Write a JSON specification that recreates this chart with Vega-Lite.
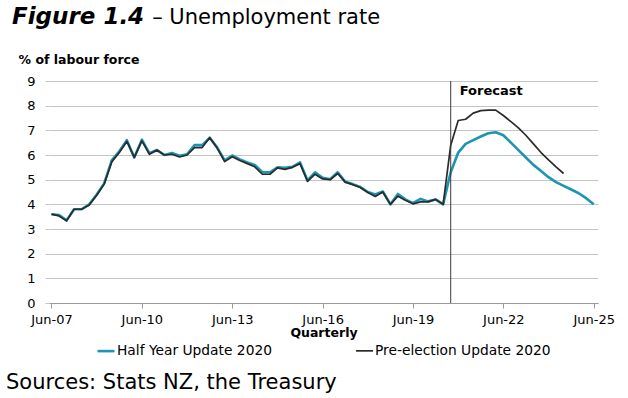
{
  "$schema": "https://vega.github.io/schema/vega-lite/v6.json",
  "background": "white",
  "padding": {"left": 6, "top": 6, "right": 8, "bottom": 4},
  "title": {
    "text": "Sources: Stats NZ, the Treasury",
    "orient": "bottom",
    "anchor": "start",
    "frame": "bounds",
    "font": "DejaVu Sans",
    "fontSize": 21,
    "fontWeight": "normal",
    "color": "#000000",
    "dx": -6,
    "offset": 14
  },
  "datasets": {
    "rates": [
      {"date": "2007-06-01", "Half Year Update 2020": 3.6, "Pre-election Update 2020": 3.6},
      {"date": "2007-09-01", "Half Year Update 2020": 3.57, "Pre-election Update 2020": 3.53},
      {"date": "2007-12-01", "Half Year Update 2020": 3.35, "Pre-election Update 2020": 3.33},
      {"date": "2008-03-01", "Half Year Update 2020": 3.8, "Pre-election Update 2020": 3.8},
      {"date": "2008-06-01", "Half Year Update 2020": 3.8, "Pre-election Update 2020": 3.8},
      {"date": "2008-09-01", "Half Year Update 2020": 4.0, "Pre-election Update 2020": 3.97},
      {"date": "2008-12-01", "Half Year Update 2020": 4.4, "Pre-election Update 2020": 4.37},
      {"date": "2009-03-01", "Half Year Update 2020": 4.85, "Pre-election Update 2020": 4.82},
      {"date": "2009-06-01", "Half Year Update 2020": 5.78, "Pre-election Update 2020": 5.72},
      {"date": "2009-09-01", "Half Year Update 2020": 6.15, "Pre-election Update 2020": 6.1},
      {"date": "2009-12-01", "Half Year Update 2020": 6.6, "Pre-election Update 2020": 6.55},
      {"date": "2010-03-01", "Half Year Update 2020": 5.9, "Pre-election Update 2020": 5.9},
      {"date": "2010-06-01", "Half Year Update 2020": 6.62, "Pre-election Update 2020": 6.57},
      {"date": "2010-09-01", "Half Year Update 2020": 6.07, "Pre-election Update 2020": 6.03},
      {"date": "2010-12-01", "Half Year Update 2020": 6.2, "Pre-election Update 2020": 6.2},
      {"date": "2011-03-01", "Half Year Update 2020": 6.0, "Pre-election Update 2020": 6.0},
      {"date": "2011-06-01", "Half Year Update 2020": 6.08, "Pre-election Update 2020": 6.03},
      {"date": "2011-09-01", "Half Year Update 2020": 5.97, "Pre-election Update 2020": 5.92},
      {"date": "2011-12-01", "Half Year Update 2020": 6.03, "Pre-election Update 2020": 6.0},
      {"date": "2012-03-01", "Half Year Update 2020": 6.4, "Pre-election Update 2020": 6.3},
      {"date": "2012-06-01", "Half Year Update 2020": 6.4, "Pre-election Update 2020": 6.3},
      {"date": "2012-09-01", "Half Year Update 2020": 6.7, "Pre-election Update 2020": 6.7},
      {"date": "2012-12-01", "Half Year Update 2020": 6.3, "Pre-election Update 2020": 6.28},
      {"date": "2013-03-01", "Half Year Update 2020": 5.78, "Pre-election Update 2020": 5.73},
      {"date": "2013-06-01", "Half Year Update 2020": 5.98, "Pre-election Update 2020": 5.93},
      {"date": "2013-09-01", "Half Year Update 2020": 5.82, "Pre-election Update 2020": 5.78},
      {"date": "2013-12-01", "Half Year Update 2020": 5.7, "Pre-election Update 2020": 5.65},
      {"date": "2014-03-01", "Half Year Update 2020": 5.6, "Pre-election Update 2020": 5.52},
      {"date": "2014-06-01", "Half Year Update 2020": 5.3, "Pre-election Update 2020": 5.22},
      {"date": "2014-09-01", "Half Year Update 2020": 5.3, "Pre-election Update 2020": 5.22},
      {"date": "2014-12-01", "Half Year Update 2020": 5.5, "Pre-election Update 2020": 5.48},
      {"date": "2015-03-01", "Half Year Update 2020": 5.48, "Pre-election Update 2020": 5.42},
      {"date": "2015-06-01", "Half Year Update 2020": 5.52, "Pre-election Update 2020": 5.5},
      {"date": "2015-09-01", "Half Year Update 2020": 5.7, "Pre-election Update 2020": 5.65},
      {"date": "2015-12-01", "Half Year Update 2020": 4.97, "Pre-election Update 2020": 4.93},
      {"date": "2016-03-01", "Half Year Update 2020": 5.3, "Pre-election Update 2020": 5.22},
      {"date": "2016-06-01", "Half Year Update 2020": 5.08, "Pre-election Update 2020": 5.03},
      {"date": "2016-09-01", "Half Year Update 2020": 5.02, "Pre-election Update 2020": 5.0},
      {"date": "2016-12-01", "Half Year Update 2020": 5.3, "Pre-election Update 2020": 5.25},
      {"date": "2017-03-01", "Half Year Update 2020": 4.92, "Pre-election Update 2020": 4.9},
      {"date": "2017-06-01", "Half Year Update 2020": 4.82, "Pre-election Update 2020": 4.8},
      {"date": "2017-09-01", "Half Year Update 2020": 4.7, "Pre-election Update 2020": 4.68},
      {"date": "2017-12-01", "Half Year Update 2020": 4.5, "Pre-election Update 2020": 4.48},
      {"date": "2018-03-01", "Half Year Update 2020": 4.4, "Pre-election Update 2020": 4.32},
      {"date": "2018-06-01", "Half Year Update 2020": 4.52, "Pre-election Update 2020": 4.5},
      {"date": "2018-09-01", "Half Year Update 2020": 4.0, "Pre-election Update 2020": 4.0},
      {"date": "2018-12-01", "Half Year Update 2020": 4.42, "Pre-election Update 2020": 4.33},
      {"date": "2019-03-01", "Half Year Update 2020": 4.2, "Pre-election Update 2020": 4.17},
      {"date": "2019-06-01", "Half Year Update 2020": 4.05, "Pre-election Update 2020": 4.02},
      {"date": "2019-09-01", "Half Year Update 2020": 4.22, "Pre-election Update 2020": 4.1},
      {"date": "2019-12-01", "Half Year Update 2020": 4.12, "Pre-election Update 2020": 4.1},
      {"date": "2020-03-01", "Half Year Update 2020": 4.2, "Pre-election Update 2020": 4.2},
      {"date": "2020-06-01", "Half Year Update 2020": 4.0, "Pre-election Update 2020": 4.0},
      {"date": "2020-09-01", "Half Year Update 2020": 5.3, "Pre-election Update 2020": 6.4},
      {"date": "2020-12-01", "Half Year Update 2020": 6.1, "Pre-election Update 2020": 7.4},
      {"date": "2021-03-01", "Half Year Update 2020": 6.45, "Pre-election Update 2020": 7.45},
      {"date": "2021-06-01", "Half Year Update 2020": 6.6, "Pre-election Update 2020": 7.7},
      {"date": "2021-09-01", "Half Year Update 2020": 6.75, "Pre-election Update 2020": 7.8},
      {"date": "2021-12-01", "Half Year Update 2020": 6.88, "Pre-election Update 2020": 7.82},
      {"date": "2022-03-01", "Half Year Update 2020": 6.92, "Pre-election Update 2020": 7.82},
      {"date": "2022-06-01", "Half Year Update 2020": 6.8, "Pre-election Update 2020": 7.6},
      {"date": "2022-09-01", "Half Year Update 2020": 6.5, "Pre-election Update 2020": 7.35},
      {"date": "2022-12-01", "Half Year Update 2020": 6.2, "Pre-election Update 2020": 7.1},
      {"date": "2023-03-01", "Half Year Update 2020": 5.9, "Pre-election Update 2020": 6.8},
      {"date": "2023-06-01", "Half Year Update 2020": 5.6, "Pre-election Update 2020": 6.45},
      {"date": "2023-09-01", "Half Year Update 2020": 5.35, "Pre-election Update 2020": 6.1},
      {"date": "2023-12-01", "Half Year Update 2020": 5.1, "Pre-election Update 2020": 5.8},
      {"date": "2024-03-01", "Half Year Update 2020": 4.9, "Pre-election Update 2020": 5.52},
      {"date": "2024-06-01", "Half Year Update 2020": 4.75, "Pre-election Update 2020": 5.25},
      {"date": "2024-09-01", "Half Year Update 2020": 4.6},
      {"date": "2024-12-01", "Half Year Update 2020": 4.45},
      {"date": "2025-03-01", "Half Year Update 2020": 4.25},
      {"date": "2025-06-01", "Half Year Update 2020": 4.0}
    ],
    "marker": [
      {"date": "2020-09-01", "label": "Forecast"}
    ]
  },
  "vconcat": [
    {
      "width": 549,
      "height": 222,
      "title": {
        "text": "Figure 1.4",
        "subtitle": "\u200b\u00a0\u00a0\u00a0\u00a0\u00a0\u00a0\u00a0\u00a0\u00a0\u00a0\u00a0\u00a0\u00a0\u00a0\u00a0\u00a0\u00a0\u00a0\u00a0\u00a0\u00a0– Unemployment rate",
        "anchor": "start",
        "frame": "bounds",
        "font": "DejaVu Sans",
        "fontSize": 23,
        "fontWeight": "bold",
        "fontStyle": "italic",
        "color": "#000000",
        "subtitleFont": "DejaVu Sans",
        "subtitleFontSize": 21,
        "subtitleFontWeight": "normal",
        "subtitleFontStyle": "normal",
        "subtitleColor": "#000000",
        "subtitlePadding": -22,
        "dx": -6,
        "offset": 24
      },
      "layer": [
        {
          "data": {"name": "rates"},
          "transform": [
            {"fold": ["Half Year Update 2020", "Pre-election Update 2020"], "as": ["series", "rate"]}
          ],
          "mark": {"type": "line", "strokeJoin": "round"},
          "encoding": {
            "x": {
              "field": "date",
              "type": "temporal",
              "scale": {
                "type": "utc",
                "domain": [
                  {"year": 2007, "month": 5, "date": 2, "utc": true},
                  {"year": 2025, "month": 7, "date": 23, "utc": true}
                ]
              },
              "axis": {
                "values": [
                  {"year": 2007, "month": 6, "date": 1, "utc": true},
                  {"year": 2010, "month": 6, "date": 1, "utc": true},
                  {"year": 2013, "month": 6, "date": 1, "utc": true},
                  {"year": 2016, "month": 6, "date": 1, "utc": true},
                  {"year": 2019, "month": 6, "date": 1, "utc": true},
                  {"year": 2022, "month": 6, "date": 1, "utc": true},
                  {"year": 2025, "month": 6, "date": 1, "utc": true}
                ],
                "format": "%b-%y",
                "grid": false,
                "domainColor": "#9a9a9a",
                "tickColor": "#9a9a9a",
                "tickSize": 5,
                "labelPadding": 5,
                "labelFlush": false,
                "labelFont": "DejaVu Sans",
                "labelFontSize": 13,
                "labelColor": "#000000",
                "title": "Quarterly",
                "titleFont": "DejaVu Sans",
                "titleFontSize": 12.5,
                "titleFontWeight": "bold",
                "titleColor": "#000000",
                "titlePadding": 0
              }
            },
            "y": {
              "field": "rate",
              "type": "quantitative",
              "scale": {"domain": [0, 9], "nice": false},
              "axis": {
                "values": [0, 1, 2, 3, 4, 5, 6, 7, 8, 9],
                "labelOverlap": false,
                "grid": true,
                "gridColor": "#c4c4c4",
                "domain": false,
                "tickColor": "#c4c4c4",
                "tickSize": 4,
                "labelPadding": 10,
                "labelFont": "DejaVu Sans",
                "labelFontSize": 13,
                "labelColor": "#000000",
                "title": "% of labour force",
                "titleFont": "DejaVu Sans",
                "titleFontSize": 12.5,
                "titleFontWeight": "bold",
                "titleColor": "#000000",
                "titleAngle": 0,
                "titleAlign": "left",
                "titleBaseline": "alphabetic",
                "titleX": -31,
                "titleY": -18
              }
            },
            "color": {
              "field": "series",
              "type": "nominal",
              "scale": {
                "domain": ["Half Year Update 2020", "Pre-election Update 2020"],
                "range": ["#1b95b0", "#2b2b2b"]
              },
              "legend": {
                "title": null,
                "orient": "bottom",
                "direction": "horizontal",
                "symbolType": "stroke",
                "symbolSize": 289,
                "symbolStrokeWidth": 2,
                "labelFont": "DejaVu Sans",
                "labelFontSize": 13.8,
                "labelColor": "#000000",
                "labelLimit": 400,
                "labelOffset": 1,
                "columnPadding": 80,
                "offset": 2,
                "padding": 0
              }
            },
            "strokeWidth": {
              "field": "series",
              "type": "nominal",
              "scale": {
                "domain": ["Half Year Update 2020", "Pre-election Update 2020"],
                "range": [2.6, 1.7]
              },
              "legend": null
            }
          }
        },
        {
          "data": {"name": "marker"},
          "mark": {"type": "rule", "color": "#3a3a3a", "strokeWidth": 1},
          "encoding": {
            "x": {"field": "date", "type": "temporal"}
          }
        },
        {
          "data": {"name": "marker"},
          "mark": {
            "type": "text",
            "align": "left",
            "baseline": "middle",
            "dx": 9,
            "font": "DejaVu Sans",
            "fontSize": 13,
            "fontWeight": "bold",
            "color": "#000000"
          },
          "encoding": {
            "x": {"field": "date", "type": "temporal"},
            "y": {
              "datum": 8.6,
              "type": "quantitative",
              "scale": {"domain": [0, 9], "nice": false},
              "axis": {
                "values": [0, 1, 2, 3, 4, 5, 6, 7, 8, 9],
                "labelOverlap": false,
                "grid": true,
                "gridColor": "#c4c4c4",
                "domain": false,
                "tickColor": "#c4c4c4",
                "tickSize": 4,
                "labelPadding": 10,
                "labelFont": "DejaVu Sans",
                "labelFontSize": 13,
                "labelColor": "#000000",
                "title": "% of labour force",
                "titleFont": "DejaVu Sans",
                "titleFontSize": 12.5,
                "titleFontWeight": "bold",
                "titleColor": "#000000",
                "titleAngle": 0,
                "titleAlign": "left",
                "titleBaseline": "alphabetic",
                "titleX": -31,
                "titleY": -18
              }
            },
            "text": {"field": "label", "type": "nominal"}
          }
        }
      ]
    }
  ],
  "config": {
    "view": {"stroke": null},
    "font": "DejaVu Sans",
    "legend": {"layout": {"bottom": {"anchor": "middle"}}}
  }
}
